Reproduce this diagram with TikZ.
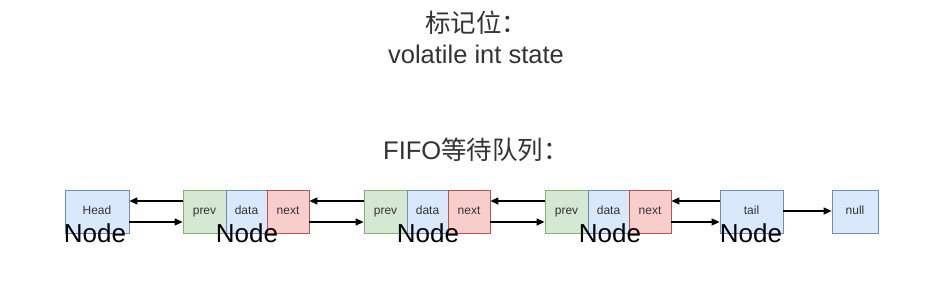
\documentclass[tikz,border=0pt]{standalone}
\usepackage{fontspec}
\setmainfont{Liberation Sans}
\newfontfamily\cjk{Noto Sans CJK SC}
\usetikzlibrary{arrows.meta}
\definecolor{bluef}{HTML}{DAE8FC}\definecolor{blued}{HTML}{6C8EBF}
\definecolor{greenf}{HTML}{D5E8D4}\definecolor{greend}{HTML}{82B366}
\definecolor{redf}{HTML}{F8CECC}\definecolor{redd}{HTML}{B85450}
\definecolor{txt}{HTML}{333333}
\begin{document}
\begin{tikzpicture}[x=1pt,y=-1pt,
  cell/.style={draw, line width=0.8pt, minimum height=43pt, inner sep=0pt, text height=8.5pt, text depth=2.5pt, font=\fontsize{12}{14}\selectfont, text=txt},
  bl/.style={cell, fill=bluef, draw=blued},
  gr/.style={cell, fill=greenf, draw=greend},
  rd/.style={cell, fill=redf, draw=redd},
  arr/.style={-{Triangle[length=8pt,width=7pt]}, line width=1.2pt, black},
  nodelbl/.style={anchor=base, inner sep=0pt, font=\fontsize{26}{30}\selectfont, text=black},
  head/.style={anchor=base, inner sep=0pt, font=\fontsize{25.5}{30}\selectfont, text=txt}]
\useasboundingbox (0,0) rectangle (933,286);
\fill[white] (0,0) rectangle (933,286);
% headings
\node[head] (t1) at (476,33) {\cjk 标记位：};
\node[head] (t2) at (476,64) {volatile int state};
\node[head] (t3) at (476,159) {FIFO\cjk 等待队列：};
% boxes
\node[bl, minimum width=64pt] (head) at (97,211.5) {Head};
\node[gr, minimum width=43pt] (p1) at (204.5,211.5) {prev};
\node[bl, minimum width=41pt] (d1) at (246.5,211.5) {data};
\node[rd, minimum width=42pt] (n1) at (288,211.5) {next};
\node[gr, minimum width=43pt] (p2) at (385.5,211.5) {prev};
\node[bl, minimum width=41pt] (d2) at (427.5,211.5) {data};
\node[rd, minimum width=42pt] (n2) at (469,211.5) {next};
\node[gr, minimum width=43pt] (p3) at (566.5,211.5) {prev};
\node[bl, minimum width=41pt] (d3) at (608.5,211.5) {data};
\node[rd, minimum width=42pt] (n3) at (650,211.5) {next};
\node[bl, minimum width=63pt] (tail) at (751.5,211.5) {tail};
\node[bl, minimum width=46pt] (null) at (855,211.5) {null};
% arrows
\foreach \a/\b in {head/p1, n1/p2, n2/p3, n3/tail}{
  \draw[arr] ([yshift=10.5pt]\b.west) -- ([yshift=10.5pt]\a.east);
  \draw[arr] ([yshift=-10.5pt]\a.east) -- ([yshift=-10.5pt]\b.west);
}
\draw[arr] ([yshift=0.5pt]tail.east) -- ([yshift=0.5pt]null.west);
% Node labels
\node[nodelbl] (l0) at (95,242) {Node};
\node[nodelbl] (l1) at (247,242) {Node};
\node[nodelbl] (l2) at (428,242) {Node};
\node[nodelbl] (l3) at (610,242) {Node};
\node[nodelbl] (l4) at (751,242) {Node};
\end{tikzpicture}
\end{document}
